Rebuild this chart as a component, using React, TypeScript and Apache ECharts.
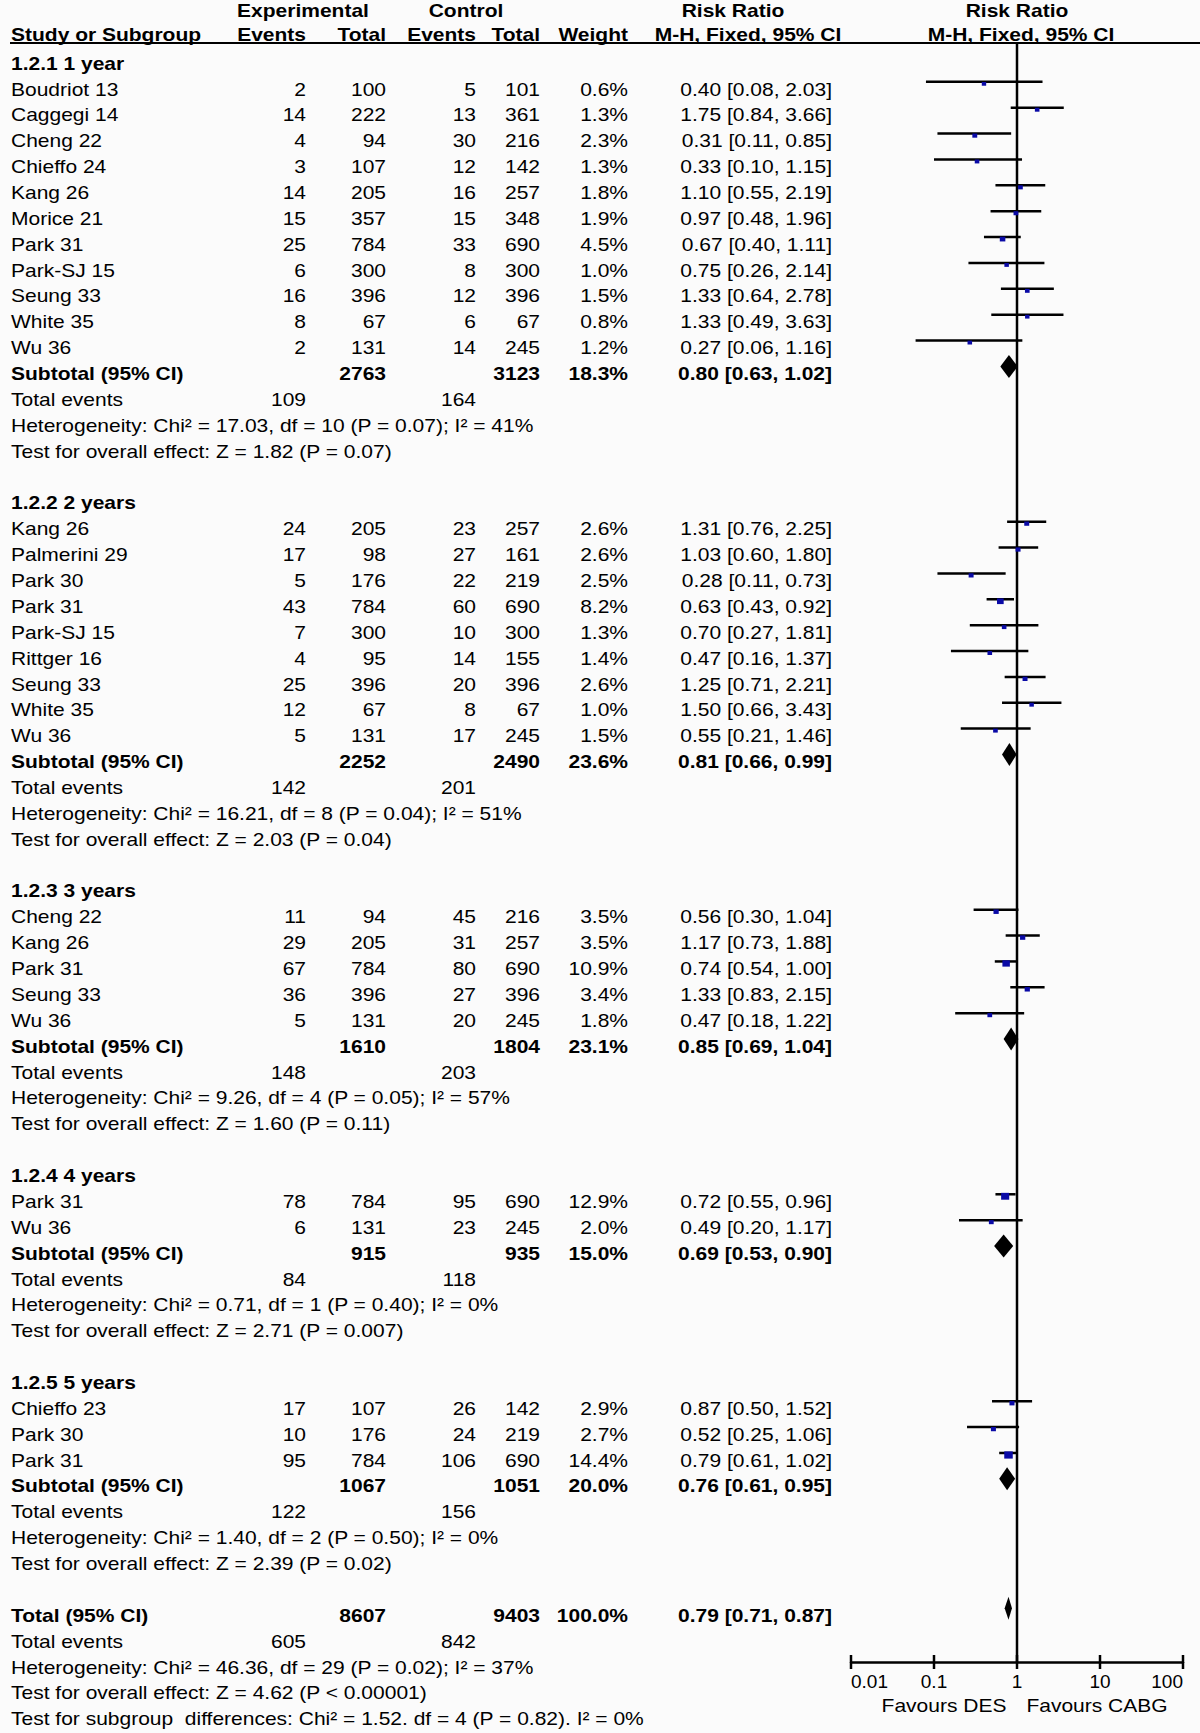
import React, { useEffect, useRef } from "react";
import * as echarts from "echarts";

// ---------------- data ----------------
// [study, expEvents, expTotal, ctlEvents, ctlTotal, weight%, RR, lower, upper]
type Study = [string, number, number, number, number, number, number, number, number];

const groupTitles = ["1.2.1 1 year", "1.2.2 2 years", "1.2.3 3 years", "1.2.4 4 years", "1.2.5 5 years"];

const year1Studies: Study[] = [
  ["Boudriot 13", 2, 100, 5, 101, 0.6, 0.40, 0.08, 2.03],
  ["Caggegi 14", 14, 222, 13, 361, 1.3, 1.75, 0.84, 3.66],
  ["Cheng 22", 4, 94, 30, 216, 2.3, 0.31, 0.11, 0.85],
  ["Chieffo 24", 3, 107, 12, 142, 1.3, 0.33, 0.10, 1.15],
  ["Kang 26", 14, 205, 16, 257, 1.8, 1.10, 0.55, 2.19],
  ["Morice 21", 15, 357, 15, 348, 1.9, 0.97, 0.48, 1.96],
  ["Park 31", 25, 784, 33, 690, 4.5, 0.67, 0.40, 1.11],
  ["Park-SJ 15", 6, 300, 8, 300, 1.0, 0.75, 0.26, 2.14],
  ["Seung 33", 16, 396, 12, 396, 1.5, 1.33, 0.64, 2.78],
  ["White 35", 8, 67, 6, 67, 0.8, 1.33, 0.49, 3.63],
  ["Wu 36", 2, 131, 14, 245, 1.2, 0.27, 0.06, 1.16],
];

const year2Studies: Study[] = [
  ["Kang 26", 24, 205, 23, 257, 2.6, 1.31, 0.76, 2.25],
  ["Palmerini 29", 17, 98, 27, 161, 2.6, 1.03, 0.60, 1.80],
  ["Park 30", 5, 176, 22, 219, 2.5, 0.28, 0.11, 0.73],
  ["Park 31", 43, 784, 60, 690, 8.2, 0.63, 0.43, 0.92],
  ["Park-SJ 15", 7, 300, 10, 300, 1.3, 0.70, 0.27, 1.81],
  ["Rittger 16", 4, 95, 14, 155, 1.4, 0.47, 0.16, 1.37],
  ["Seung 33", 25, 396, 20, 396, 2.6, 1.25, 0.71, 2.21],
  ["White 35", 12, 67, 8, 67, 1.0, 1.50, 0.66, 3.43],
  ["Wu 36", 5, 131, 17, 245, 1.5, 0.55, 0.21, 1.46],
];

const year3Studies: Study[] = [
  ["Cheng 22", 11, 94, 45, 216, 3.5, 0.56, 0.30, 1.04],
  ["Kang 26", 29, 205, 31, 257, 3.5, 1.17, 0.73, 1.88],
  ["Park 31", 67, 784, 80, 690, 10.9, 0.74, 0.54, 1.00],
  ["Seung 33", 36, 396, 27, 396, 3.4, 1.33, 0.83, 2.15],
  ["Wu 36", 5, 131, 20, 245, 1.8, 0.47, 0.18, 1.22],
];

const year4Studies: Study[] = [
  ["Park 31", 78, 784, 95, 690, 12.9, 0.72, 0.55, 0.96],
  ["Wu 36", 6, 131, 23, 245, 2.0, 0.49, 0.20, 1.17],
];

const year5Studies: Study[] = [
  ["Chieffo 23", 17, 107, 26, 142, 2.9, 0.87, 0.50, 1.52],
  ["Park 30", 10, 176, 24, 219, 2.7, 0.52, 0.25, 1.06],
  ["Park 31", 95, 784, 106, 690, 14.4, 0.79, 0.61, 1.02],
];

const groupStudies = [year1Studies, year2Studies, year3Studies, year4Studies, year5Studies];

const subtotalTotals = [[2763, 3123], [2252, 2490], [1610, 1804], [915, 935], [1067, 1051]];
const subtotalWeights = [18.3, 23.6, 23.1, 15.0, 20.0];
const subtotalRR = [[0.80, 0.63, 1.02], [0.81, 0.66, 0.99], [0.85, 0.69, 1.04], [0.69, 0.53, 0.90], [0.76, 0.61, 0.95]];
const subtotalEvents = [[109, 164], [142, 201], [148, 203], [84, 118], [122, 156]];
const heterogeneity = [
  "Heterogeneity: Chi² = 17.03, df = 10 (P = 0.07); I² = 41%",
  "Heterogeneity: Chi² = 16.21, df = 8 (P = 0.04); I² = 51%",
  "Heterogeneity: Chi² = 9.26, df = 4 (P = 0.05); I² = 57%",
  "Heterogeneity: Chi² = 0.71, df = 1 (P = 0.40); I² = 0%",
  "Heterogeneity: Chi² = 1.40, df = 2 (P = 0.50); I² = 0%",
];
const overallEffect = [
  "Test for overall effect: Z = 1.82 (P = 0.07)",
  "Test for overall effect: Z = 2.03 (P = 0.04)",
  "Test for overall effect: Z = 1.60 (P = 0.11)",
  "Test for overall effect: Z = 2.71 (P = 0.007)",
  "Test for overall effect: Z = 2.39 (P = 0.02)",
];

const totalTotals = [8607, 9403];
const totalWeight = 100.0;
const totalRR = [0.79, 0.71, 0.87];
const totalEvents = [605, 842];
const totalHeterogeneity = "Heterogeneity: Chi² = 46.36, df = 29 (P = 0.02); I² = 37%";
const totalEffect = "Test for overall effect: Z = 4.62 (P < 0.00001)";
const subgroupTest = "Test for subgroup  differences: Chi² = 1.52. df = 4 (P = 0.82). I² = 0%";

const axisTicks = [0.01, 0.1, 1, 10, 100];
const favoursLabels = ["Favours DES", "Favours CABG"];

// ---------------- layout ----------------
const W = 1200;
const H = 1733;
const ROW0 = 63;
const ROWH = 25.87;
const MARK_DY = -7;
const COL = { name: 11, expEv: 306, expTot: 386, ctlEv: 476, ctlTot: 540, weight: 628, ci: 832 };
const PLOT_LEFT = 851;
const PLOT_RIGHT = 1183;
const PLOT_TOP = 43;
const PLOT_BOTTOM = 1662;
const FONT = '"Liberation Sans", Arial, Helvetica, sans-serif';
const FS = 19;
const SX = 1.105;

type TextItem = { x: number; y: number; t: string; align: string; bold: boolean };

const fmtCI = (m: number, l: number, h: number) => `${m.toFixed(2)} [${l.toFixed(2)}, ${h.toFixed(2)}]`;

function buildLayout() {
  const texts: TextItem[] = [];
  const studyMarks: number[][] = [];
  const diamondMarks: number[][] = [];
  const rowY = (r: number) => ROW0 + ROWH * r;
  const add = (x: number, r: number, t: string, align = "right", bold = false) =>
    texts.push({ x, y: rowY(r), t, align, bold });

  // headers
  const h1 = 10;
  const h2 = 34;
  texts.push({ x: 303, y: h1, t: "Experimental", align: "center", bold: true });
  texts.push({ x: 466, y: h1, t: "Control", align: "center", bold: true });
  texts.push({ x: 733, y: h1, t: "Risk Ratio", align: "center", bold: true });
  texts.push({ x: 1017, y: h1, t: "Risk Ratio", align: "center", bold: true });
  texts.push({ x: COL.name, y: h2, t: "Study or Subgroup", align: "left", bold: true });
  texts.push({ x: COL.expEv, y: h2, t: "Events", align: "right", bold: true });
  texts.push({ x: COL.expTot, y: h2, t: "Total", align: "right", bold: true });
  texts.push({ x: COL.ctlEv, y: h2, t: "Events", align: "right", bold: true });
  texts.push({ x: COL.ctlTot, y: h2, t: "Total", align: "right", bold: true });
  texts.push({ x: COL.weight, y: h2, t: "Weight", align: "right", bold: true });
  texts.push({ x: 748, y: h2, t: "M-H, Fixed, 95% CI", align: "center", bold: true });
  texts.push({ x: 1021, y: h2, t: "M-H, Fixed, 95% CI", align: "center", bold: true });

  let r = 0;
  groupTitles.forEach((title, g) => {
    add(COL.name, r, title, "left", true);
    r++;
    groupStudies[g].forEach((s) => {
      add(COL.name, r, s[0], "left");
      add(COL.expEv, r, String(s[1]));
      add(COL.expTot, r, String(s[2]));
      add(COL.ctlEv, r, String(s[3]));
      add(COL.ctlTot, r, String(s[4]));
      add(COL.weight, r, s[5].toFixed(1) + "%");
      add(COL.ci, r, fmtCI(s[6], s[7], s[8]));
      studyMarks.push([s[6], r, s[7], s[8], s[5]]);
      r++;
    });
    add(COL.name, r, "Subtotal (95% CI)", "left", true);
    add(COL.expTot, r, String(subtotalTotals[g][0]), "right", true);
    add(COL.ctlTot, r, String(subtotalTotals[g][1]), "right", true);
    add(COL.weight, r, subtotalWeights[g].toFixed(1) + "%", "right", true);
    add(COL.ci, r, fmtCI(subtotalRR[g][0], subtotalRR[g][1], subtotalRR[g][2]), "right", true);
    diamondMarks.push([subtotalRR[g][0], r, subtotalRR[g][1], subtotalRR[g][2]]);
    r++;
    add(COL.name, r, "Total events", "left");
    add(COL.expEv, r, String(subtotalEvents[g][0]));
    add(COL.ctlEv, r, String(subtotalEvents[g][1]));
    r++;
    add(COL.name, r, heterogeneity[g], "left");
    r++;
    add(COL.name, r, overallEffect[g], "left");
    r++;
    r++; // blank
  });

  add(COL.name, r, "Total (95% CI)", "left", true);
  add(COL.expTot, r, String(totalTotals[0]), "right", true);
  add(COL.ctlTot, r, String(totalTotals[1]), "right", true);
  add(COL.weight, r, totalWeight.toFixed(1) + "%", "right", true);
  add(COL.ci, r, fmtCI(totalRR[0], totalRR[1], totalRR[2]), "right", true);
  diamondMarks.push([totalRR[0], r, totalRR[1], totalRR[2]]);
  r++;
  add(COL.name, r, "Total events", "left");
  add(COL.expEv, r, String(totalEvents[0]));
  add(COL.ctlEv, r, String(totalEvents[1]));
  r++;
  add(COL.name, r, totalHeterogeneity, "left");
  r++;
  add(COL.name, r, totalEffect, "left");
  r++;
  add(COL.name, r, subgroupTest, "left");

  // favours labels under the axis
  texts.push({ x: 944, y: 1705, t: favoursLabels[0], align: "center", bold: false });
  texts.push({ x: 1097, y: 1705, t: favoursLabels[1], align: "center", bold: false });

  return { texts, studyMarks, diamondMarks };
}

export default function App() {
  const ref = useRef<HTMLDivElement>(null);

  useEffect(() => {
    if (!ref.current) return;
    const chart = echarts.init(ref.current, undefined, { renderer: "svg", width: W, height: H });
    const { texts, studyMarks, diamondMarks } = buildLayout();

    const markBase = ROW0 + MARK_DY;
    const yMin = (PLOT_TOP - markBase) / ROWH;
    const yMax = (PLOT_BOTTOM - markBase) / ROWH;

    const option: any = {
      animation: false,
      backgroundColor: "#fbfbfb",
      grid: [
        { left: 0, top: 0, width: W, height: H, containLabel: false },
        { left: PLOT_LEFT, top: PLOT_TOP, width: PLOT_RIGHT - PLOT_LEFT, height: PLOT_BOTTOM - PLOT_TOP, containLabel: false },
      ],
      xAxis: [
        { gridIndex: 0, type: "value", min: 0, max: W, show: false, axisLine: { onZero: false } },
        {
          gridIndex: 1,
          type: "log",
          logBase: 10,
          min: 0.01,
          max: 100,
          position: "bottom",
          axisLine: { show: true, onZero: false, lineStyle: { color: "#000", width: 2.5 } },
          axisTick: { show: false },
          splitLine: { show: false },
          minorTick: { show: false },
          axisLabel: {
            show: true,
            color: "#000",
            fontSize: 19,
            fontFamily: FONT,
            margin: 10,
            alignMinLabel: "left",
            alignMaxLabel: "right",
            formatter: (v: number) => String(v),
          },
        },
      ],
      yAxis: [
        { gridIndex: 0, type: "value", min: 0, max: H, inverse: true, show: false, axisLine: { onZero: false } },
        { gridIndex: 1, type: "value", min: yMin, max: yMax, inverse: true, show: false, axisLine: { onZero: false } },
      ],
      graphic: [
        {
          type: "line",
          shape: { x1: 10, y1: PLOT_TOP, x2: W, y2: PLOT_TOP },
          style: { stroke: "#000", lineWidth: 2 },
          silent: true,
        },
      ],
      series: [
        // vertical line of no effect
        {
          type: "custom",
          xAxisIndex: 1,
          yAxisIndex: 1,
          silent: true,
          data: [[1]],
          renderItem: (_p: any, api: any) => {
            const a = api.coord([api.value(0), yMin]);
            const b = api.coord([api.value(0), yMax]);
            return {
              type: "line",
              shape: { x1: a[0], y1: a[1], x2: b[0], y2: b[1] },
              style: { stroke: "#000", lineWidth: 2.5 },
            };
          },
        },
        // axis ticks crossing the axis line
        {
          type: "custom",
          xAxisIndex: 1,
          yAxisIndex: 1,
          silent: true,
          data: axisTicks.map((v) => [v]),
          renderItem: (_p: any, api: any) => {
            const c = api.coord([api.value(0), yMax]);
            return {
              type: "line",
              shape: { x1: c[0], y1: c[1] - 7, x2: c[0], y2: c[1] + 7 },
              style: { stroke: "#000", lineWidth: 2.5 },
            };
          },
        },
        // study CIs and squares
        {
          type: "custom",
          xAxisIndex: 1,
          yAxisIndex: 1,
          silent: true,
          data: studyMarks,
          renderItem: (_p: any, api: any) => {
            const row = api.value(1);
            const c = api.coord([api.value(0), row]);
            const l = api.coord([api.value(2), row]);
            const h = api.coord([api.value(3), row]);
            const w = api.value(4);
            const s = 4.2 + 0.3 * w;
            const sh = s * 0.85;
            return {
              type: "group",
              children: [
                {
                  type: "line",
                  shape: { x1: l[0], y1: l[1], x2: h[0], y2: h[1] },
                  style: { stroke: "#000", lineWidth: 2.5 },
                },
                {
                  type: "rect",
                  shape: { x: c[0] - s / 2, y: c[1] + 2 - sh / 2, width: s, height: sh },
                  style: { fill: "#0a0aa6" },
                },
              ],
            };
          },
        },
        // subtotal / total diamonds
        {
          type: "custom",
          xAxisIndex: 1,
          yAxisIndex: 1,
          silent: true,
          data: diamondMarks,
          renderItem: (_p: any, api: any) => {
            const row = api.value(1);
            const c = api.coord([api.value(0), row]);
            const l = api.coord([api.value(2), row]);
            const h = api.coord([api.value(3), row]);
            const hh = 11.5;
            return {
              type: "polygon",
              shape: { points: [[l[0], c[1]], [c[0], c[1] - hh], [h[0], c[1]], [c[0], c[1] + hh]] },
              style: { fill: "#000" },
            };
          },
        },
        // table texts
        {
          type: "custom",
          xAxisIndex: 0,
          yAxisIndex: 0,
          silent: true,
          data: texts.map((t) => [t.x, t.y]),
          renderItem: (p: any, api: any) => {
            const t = texts[p.dataIndex];
            const c = api.coord([api.value(0), api.value(1)]);
            return {
              type: "text",
              x: c[0],
              y: c[1],
              scaleX: SX,
              scaleY: 1,
              style: {
                text: t.t,
                fill: "#000",
                fontSize: FS,
                fontFamily: FONT,
                fontWeight: t.bold ? "bold" : "normal",
                align: t.align,
                textAlign: t.align,
                verticalAlign: "middle",
                textVerticalAlign: "middle",
              },
            };
          },
        },
      ],
    };

    chart.setOption(option);
    return () => chart.dispose();
  }, []);

  return (
    <div
      ref={ref}
      style={{ position: "absolute", left: 0, top: 0, width: W, height: H, background: "#fbfbfb" }}
    />
  );
}
